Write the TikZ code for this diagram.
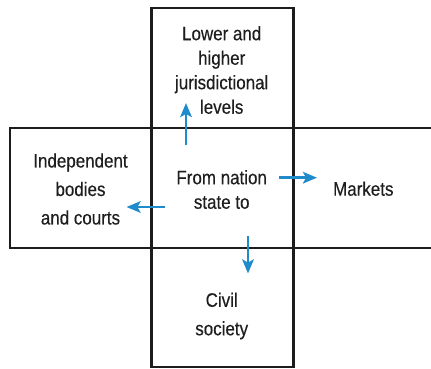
\documentclass[tikz,border=0pt]{standalone}
\usepackage{fontspec}
\setmainfont{Liberation Sans}[FakeStretch=0.87, FakeBold=0.35]
\usetikzlibrary{arrows.meta}
\definecolor{frameink}{HTML}{1C1C1C}
\definecolor{textink}{HTML}{1E1E1E}
\definecolor{flowblue}{HTML}{1F8BCB}
\begin{document}
\begin{tikzpicture}[x=1pt,y=-1pt,
  panel/.style={draw=frameink, line width=2.2pt, inner sep=0pt},
  label/.style={text=textink, align=center, inner sep=0pt},
  tight/.style={font=\fontsize{19.5}{24.5}\selectfont},
  loose/.style={font=\fontsize{19.5}{28.5}\selectfont},
  flow/.style={draw=flowblue, line width=2.6pt,
    -{Stealth[length=14pt,width=11.5pt,inset=3pt]}}]
\useasboundingbox (0,0) rectangle (431,369);
% the two crossing bands
\draw[panel] (151.5,8) rectangle (293.5,366.8);
\draw[panel] (9.6,128.2) rectangle (445,247.6);
% labels
\node[label,tight] (upper) at (221.7,70) {Lower and\\higher\\jurisdictional\\levels};
\node[label,loose] (left) at (80.5,189) {Independent\\bodies\\and courts};
\node[label,tight] (centre) at (221.7,189.5) {From nation\\state to};
\node[label,tight] (right) at (363.3,188.7) {Markets};
\node[label,loose] (lower) at (221.7,316) {Civil\\society};
% arrows leaving the centre
\coordinate (upS) at (186,145);
\coordinate (upE) at (186,103);
\coordinate (lfS) at (165,207);
\coordinate (lfE) at (126.5,207);
\coordinate (rtS) at (279,177.7);
\coordinate (rtE) at (317,177.7);
\coordinate (dnS) at (248,236);
\coordinate (dnE) at (248,273.5);
\draw[flow] (upS) -- (upE);
\draw[flow] (lfS) -- (lfE);
\draw[flow] (rtS) -- (rtE);
\draw[flow] (dnS) -- (dnE);
\end{tikzpicture}
\end{document}
